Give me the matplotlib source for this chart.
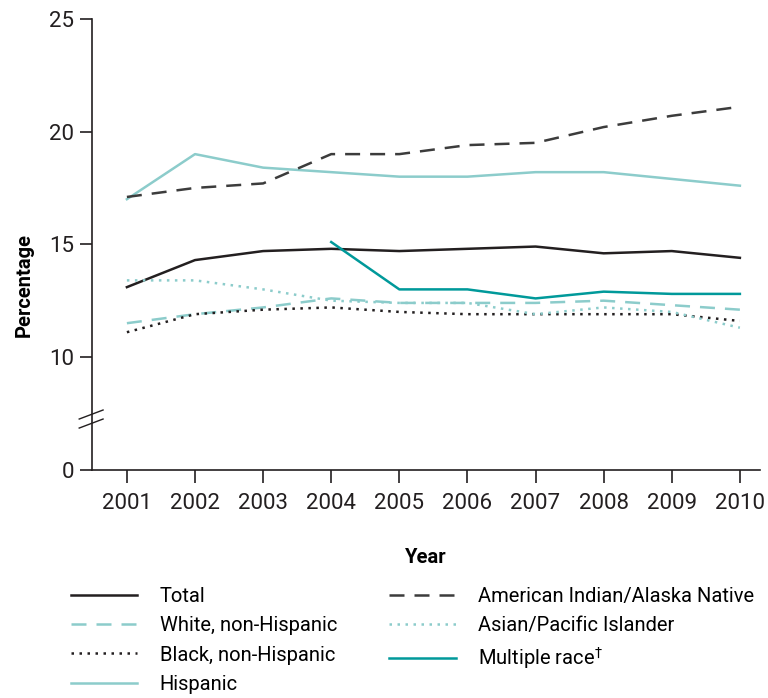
import matplotlib
matplotlib.use("Agg")
import matplotlib.pyplot as plt
from matplotlib.lines import Line2D

plt.rcParams['font.family'] = ['Roboto', 'DejaVu Sans']

years = [2001, 2002, 2003, 2004, 2005, 2006, 2007, 2008, 2009, 2010]
total = [13.1, 14.3, 14.7, 14.8, 14.7, 14.8, 14.9, 14.6, 14.7, 14.4]
white = [11.5, 11.9, 12.2, 12.6, 12.4, 12.4, 12.4, 12.5, 12.3, 12.1]
black = [11.1, 11.9, 12.1, 12.2, 12.0, 11.9, 11.9, 11.9, 11.9, 11.6]
hispanic = [17.0, 19.0, 18.4, 18.2, 18.0, 18.0, 18.2, 18.2, 17.9, 17.6]
aian = [17.1, 17.5, 17.7, 19.0, 19.0, 19.4, 19.5, 20.2, 20.7, 21.1]
asian = [13.4, 13.4, 13.0, 12.5, 12.4, 12.4, 11.9, 12.2, 12.0, 11.3]
multi_years = [2004, 2005, 2006, 2007, 2008, 2009, 2010]
multi = [15.1, 13.0, 13.0, 12.6, 12.9, 12.8, 12.8]

ytick_vals = [0, 10, 15, 20, 25]

# broken axis: 0 is drawn where 5 would be
def shift(v):
    return [x if x >= 10 else 5 for x in v]

dark = '#231f20'
grey = '#3c3c3c'
light = '#8ccccb'
teal = '#00999a'

fig = plt.figure(figsize=(7.68, 6.98), dpi=100)
ax = fig.add_axes([0.12, 0.327, 0.87, 0.646])

ax.plot(years, shift(total), color=dark, lw=1.8, label='Total')
ax.plot(years, shift(white), color=light, lw=1.8, dashes=(6, 4), label='White, non-Hispanic')
ax.plot(years, shift(black), color=dark, lw=1.8, dashes=(1, 2.2), label='Black, non-Hispanic')
ax.plot(years, shift(hispanic), color=light, lw=1.8, label='Hispanic')
ax.plot(years, shift(aian), color=grey, lw=1.8, dashes=(6, 4), label='American Indian/Alaska Native')
ax.plot(years, shift(asian), color=light, lw=1.8, dashes=(1, 2.2), label='Asian/Pacific Islander')
ax.plot(multi_years, shift(multi), color=teal, lw=1.8, label='Multiple race$^\u2020$')

ax.set_xlim(2000.49, 2010.3)
ax.set_ylim(5, 25)
ax.set_xticks(years)
ax.set_xticklabels([str(y) for y in years])
ax.set_yticks(shift(ytick_vals))
ax.set_yticklabels([str(v) for v in ytick_vals])
ax.tick_params(axis='both', direction='out', length=9, width=1.2, labelsize=16, colors=dark)
ax.tick_params(axis='x', pad=8)
ax.tick_params(axis='y', pad=4)

for side in ['top', 'right']:
    ax.spines[side].set_visible(False)
for side in ['left', 'bottom']:
    ax.spines[side].set_linewidth(1.2)
    ax.spines[side].set_color(dark)

# break marks on the y axis
for yb in [7.45, 7.05]:
    ax.add_line(Line2D([2000.30, 2000.65], [yb - 0.2, yb + 0.2], color=dark, lw=1.0,
                       clip_on=False))

ax.set_xlabel('Year', fontsize=14.5, fontweight='bold', labelpad=24)
ax.set_ylabel('Percentage', fontsize=14.5, fontweight='bold')
ax.yaxis.set_label_coords(-0.088, 0.41)

handles, labels = ax.get_legend_handles_labels()
fig.legend(handles, labels, ncol=2, loc='upper left', bbox_to_anchor=(0.082, 0.17),
           frameon=False, fontsize=14.5, handlelength=3.3, handletextpad=1.1,
           columnspacing=2.6, labelspacing=0.5, borderaxespad=0)

plt.savefig('out.png', dpi=100)
